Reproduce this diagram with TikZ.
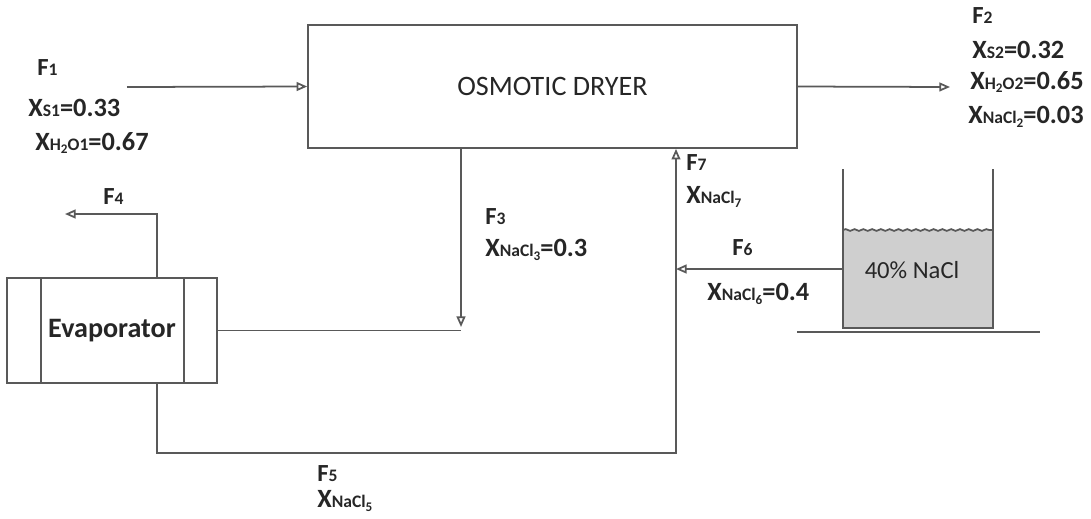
\documentclass[tikz,border=0pt]{standalone}
\usepackage{fontspec}
\setmainfont{Carlito}
\usepackage{tikz}
\usetikzlibrary{arrows.meta,calc,decorations.pathmorphing}

\definecolor{linegray}{HTML}{595959}
\definecolor{liquid}{HTML}{CFCFCF}
\newcommand{\sm}[1]{{\fontsize{10}{11}\selectfont #1}}
\newcommand{\lo}[1]{\raisebox{-0.4ex}{\fontsize{7.5}{8}\selectfont #1}}

\begin{document}
\begin{tikzpicture}[
  x=0.02cm, y=-0.02cm,
  every node/.style={text=black!85},
  unit/.style={draw=linegray, line width=1pt, rectangle, inner sep=0pt},
  flow/.style={draw=linegray, line width=1pt, -{Triangle[open, length=6pt, width=5pt]}},
  pipe/.style={draw=linegray, line width=1pt},
  lbl/.style={anchor=west, inner sep=0pt, font=\fontsize{15}{17}\selectfont\bfseries},
  flbl/.style={anchor=west, inner sep=0pt, font=\fontsize{14}{16}\selectfont\bfseries}
]
\useasboundingbox (0,0) rectangle (1091,518);

\node[unit, minimum width=9.78cm, minimum height=2.46cm, font=\fontsize{16}{18}\selectfont] (dryer) at (552.5,86.5) {OSMOTIC DRYER};
\node[unit, minimum width=4.2cm, minimum height=2.1cm, font=\fontsize{16}{18}\selectfont\bfseries] (evap) at (112,330.5) {Evaporator};
\draw[pipe] ($(evap.north west)+(35,0)$) -- ($(evap.south west)+(35,0)$);
\draw[pipe] ($(evap.north east)+(-34,0)$) -- ($(evap.south east)+(-34,0)$);

% salt tank
\fill[liquid] (843,230) rectangle (993,328);
\draw[pipe, decorate, decoration={snake, amplitude=0.5pt, segment length=5pt}] (843,230) -- (993,230);
\draw[pipe] (843,169) -- (843,328) -- (993,328) -- (993,169);
\draw[pipe] (797,332) -- (1040,332);
\node[font=\fontsize{14}{16}\selectfont] (brine) at (912,270) {40\% NaCl};

\coordinate (f1in) at (127,87);
\coordinate (f2out) at (950,87);
\coordinate (f3end) at (461,327);
\coordinate (f4x) at (157,214);
\coordinate (f4end) at (65,214);
\coordinate (f5c) at (157,453);
\coordinate (f7c) at (676,453);
\coordinate (tankin) at (843,269);

\draw[flow] (f1in) -- (dryer.west);
\draw[flow] (dryer.east) -- (f2out);
\draw[flow] (f3end |- dryer.south) -- (f3end);
\draw[pipe] (evap.east) -- (f3end |- evap.east);
\draw[flow] (f4x |- evap.north) -- (f4x) -- (f4end);
\draw[flow] (f5c |- evap.south) -- (f5c) -- (f7c) -- (f7c |- dryer.south);
\draw[flow] (tankin) -- (tankin -| f7c);

\node[flbl] (lf1) at (37,68) {F\sm{1}};
\node[lbl] (lxs1) at (28,108) {X\sm{S1}=0.33};
\node[lbl] (lxw1) at (35,143) {X\sm{H\lo{2}O1}=0.67};

\node[flbl] (lf2) at (972,16) {F\sm{2}};
\node[lbl] (lxs2) at (972,50) {X\sm{S2}=0.32};
\node[lbl] (lxw2) at (970,82) {X\sm{H\lo{2}O2}=0.65};
\node[lbl] (lxn2) at (968,117) {X\sm{NaCl\lo{2}}=0.03};

\node[flbl] (lf3) at (485,217) {F\sm{3}};
\node[lbl] (lxn3) at (485,250) {X\sm{NaCl\lo{3}}=0.3};

\node[flbl] (lf4) at (103,197) {F\sm{4}};

\node[flbl] (lf5) at (317,474) {F\sm{5}};
\node[lbl] (lxn5) at (317,501) {X\sm{NaCl\lo{5}}};

\node[flbl] (lf6) at (732,248) {F\sm{6}};
\node[lbl] (lxn6) at (707,294) {X\sm{NaCl\lo{6}}=0.4};

\node[flbl] (lf7) at (686,163) {F\sm{7}};
\node[lbl] (lxn7) at (686,197) {X\sm{NaCl\lo{7}}};

\end{tikzpicture}
\end{document}
